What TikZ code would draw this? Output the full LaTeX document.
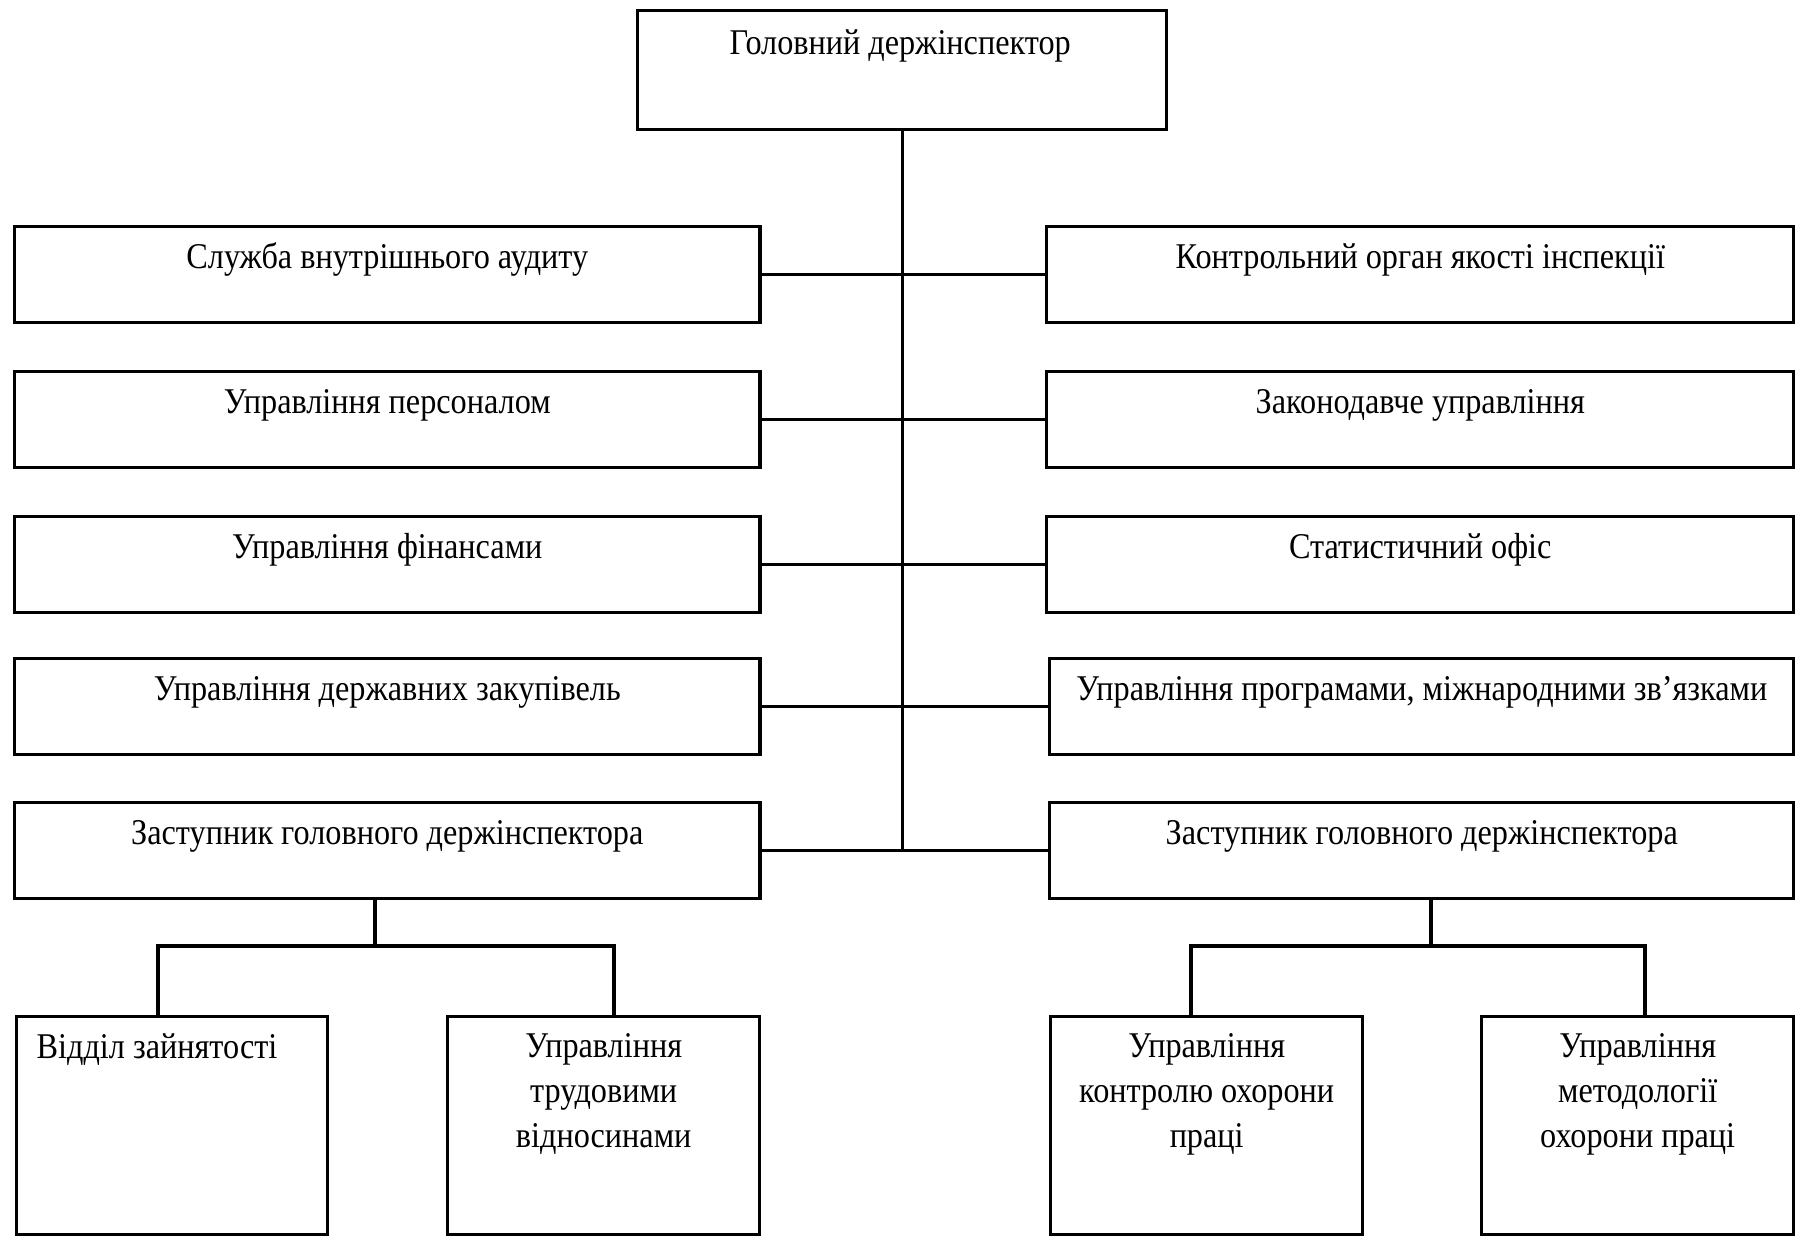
\documentclass[tikz,border=0pt]{standalone}
\usepackage{fontspec}
\setmainfont{Liberation Serif}[FakeStretch=0.89]
\usetikzlibrary{calc}

\begin{document}
\begin{tikzpicture}[x=0.01cm,y=-0.01cm,
    unit/.style={draw, line width=0.9pt, inner sep=0pt, anchor=north west},
    caption/.style={anchor=base, inner sep=0pt, align=center,
      font=\fontsize{10.3pt}{12.7pt}\selectfont},
    link/.style={line width=0.9pt}]
  \useasboundingbox (0,0) rectangle (1795,1235);

  %% Head of the inspection
  \node[unit, minimum width=5.29cm, minimum height=1.19cm] (HEAD) at (636,9) {};
  \node[caption] (HEADT) at ($(HEAD.north)+(-2,45)$) {Головний держінспектор};

  %% Left column of departments
  \foreach \n/\y/\txt in {1/225/{Служба внутрішнього аудиту},
    2/370/{Управління персоналом}, 3/515/{Управління фінансами},
    4/657/{Управління державних закупівель},
    5/801/{Заступник головного держінспектора}}
  {
    \node[unit, minimum width=7.45cm, minimum height=0.96cm] (L\n) at (13,\y) {};
    \node[caption] (LT\n) at ($(L\n.north)+(0,43)$) {\txt};
  }

  %% Right column of departments
  \foreach \n/\x/\w/\y/\txt in {1/1045/7.47/225/{Контрольний орган якості інспекції},
    2/1045/7.47/370/{Законодавче управління},
    3/1045/7.47/515/{Статистичний офіс},
    4/1048/7.44/657/{Управління програмами, міжнародними зв’язками},
    5/1048/7.44/801/{Заступник головного держінспектора}}
  {
    \node[unit, minimum width=\w cm, minimum height=0.96cm] (R\n) at (\x,\y) {};
    \node[caption] (RT\n) at ($(R\n.north)+(0,43)$) {\txt};
  }

  %% Trunk and the links to both columns
  \draw[link] (HEAD.south) -- (HEAD.south |- L5.east);
  \foreach \n in {1,...,5}
    \draw[link] (L\n.east) -- (R\n.west);

  %% Units under the deputies (base of a 3-line caption is its last line)
  \node[unit, minimum width=3.11cm, minimum height=2.18cm] (UA) at (15,1015) {};
  \node[caption, anchor=base west] (UTA) at ($(UA.north west)+(21,43)$) {Відділ зайнятості};
  \foreach \n/\x/\txt in {B/446/{Управління\\трудовими\\відносинами},
    C/1049/{Управління\\контролю охорони\\праці},
    D/1480/{Управління\\методології\\охорони праці}}
  {
    \node[unit, minimum width=3.12cm, minimum height=2.18cm] (U\n) at (\x,1015) {};
    \node[caption] (UT\n) at ($(U\n.north)+(0,132)$) {\txt};
  }

  %% Left deputy branch
  \coordinate (LBUS) at (375,946);
  \coordinate (LA) at (158,946);
  \coordinate (LB) at (614,946);
  \draw[link] (L5.south -| LBUS) -- (LBUS);
  \draw[link] (UA.north -| LA) -- (LA) -- (LB) -- (UB.north -| LB);

  %% Right deputy branch
  \coordinate (RBUS) at (1431,946);
  \coordinate (RC) at (1191,946);
  \coordinate (RD) at (1645,946);
  \draw[link] (R5.south -| RBUS) -- (RBUS);
  \draw[link] (UC.north -| RC) -- (RC) -- (RD) -- (UD.north -| RD);

\end{tikzpicture}
\end{document}
